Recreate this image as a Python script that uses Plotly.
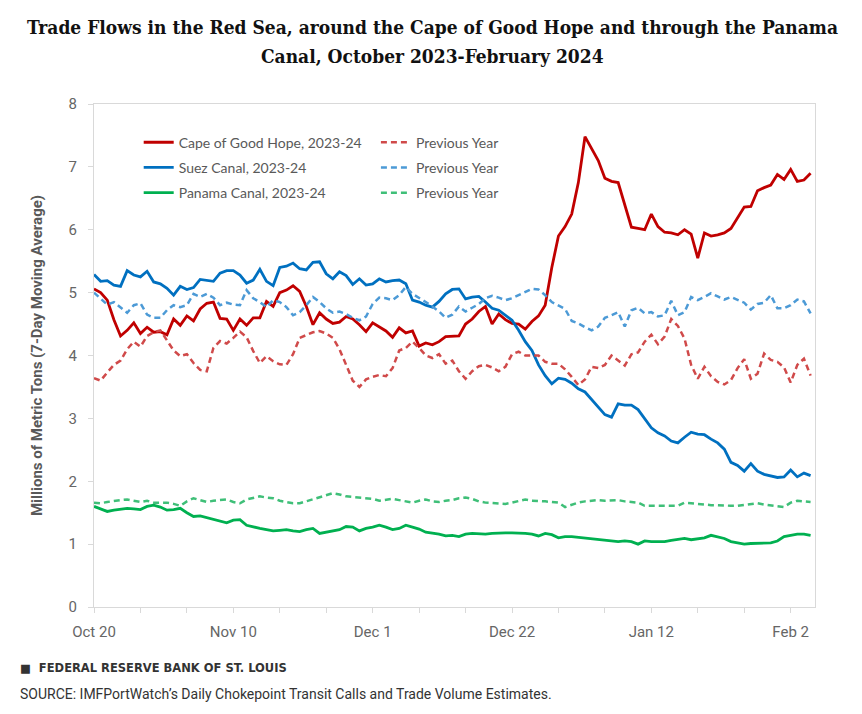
import pandas as pd
import plotly.graph_objects as go

start_date = "2023-10-20"

cape = [5.06, 5.00, 4.88, 4.57, 4.31, 4.40, 4.52, 4.35, 4.45, 4.37, 4.38, 4.33, 4.58, 4.48, 4.63, 4.55,
        4.74, 4.83, 4.85, 4.59, 4.58, 4.40, 4.58, 4.48, 4.60, 4.60, 4.86, 4.78, 5.00, 5.04, 5.11, 5.02,
        4.78, 4.49, 4.68, 4.58, 4.51,
        4.53, 4.62, 4.58, 4.49, 4.38, 4.52, 4.45, 4.39, 4.29, 4.44, 4.36, 4.39, 4.15, 4.20, 4.17, 4.22,
        4.30, 4.31, 4.31, 4.50, 4.58, 4.70, 4.78, 4.50, 4.66, 4.57, 4.51, 4.50, 4.42, 4.54, 4.63, 4.80,
        5.40, 5.90, 6.05, 6.25, 6.75, 7.48, 7.30, 7.10, 6.82, 6.77, 6.75, 6.40, 6.04, 6.02, 6.00, 6.25,
        6.05, 5.96, 5.95, 5.92, 6.00, 5.93, 5.55, 5.95, 5.90, 5.92, 5.95, 6.02, 6.18, 6.36, 6.37, 6.62,
        6.67, 6.71, 6.88, 6.80, 6.96, 6.77, 6.79, 6.90]

cape_prev = [3.64, 3.60, 3.73, 3.85, 3.92, 4.10, 4.22, 4.14, 4.31, 4.37, 4.40, 4.25, 4.08, 3.99, 4.02, 3.88,
             3.77, 3.75, 4.12, 4.23, 4.19, 4.28, 4.38, 4.29, 4.07, 3.88, 3.99, 3.91, 3.86, 3.85, 4.02, 4.28,
             4.33, 4.37, 4.39, 4.35, 4.28,
             4.10, 3.85, 3.60, 3.50, 3.62, 3.66, 3.69, 3.67, 3.80, 4.08, 4.12, 4.22, 4.12, 4.00, 3.96, 4.02,
             3.87, 3.92, 3.75, 3.63, 3.75, 3.83, 3.85, 3.81, 3.75, 3.82, 4.02, 4.06, 4.00, 4.00, 4.00, 3.90,
             3.87, 3.87, 3.78,
             3.66, 3.53, 3.62, 3.82, 3.80, 3.85, 4.00, 3.92, 3.84, 4.02, 4.05, 4.22, 4.33, 4.18, 4.30, 4.58,
             4.47, 4.27, 3.85, 3.63, 3.82, 3.67, 3.58, 3.54, 3.61, 3.80, 3.94, 3.63, 3.71, 4.03, 3.93, 3.90,
             3.81, 3.57, 3.85, 3.95, 3.68]

suez = [5.29, 5.18, 5.19, 5.12, 5.10, 5.35, 5.28, 5.25, 5.34, 5.17, 5.14, 5.07, 4.96, 5.10, 5.05, 5.08,
        5.21, 5.20, 5.18, 5.31, 5.35, 5.35, 5.28, 5.15, 5.20, 5.37, 5.18, 5.11, 5.40, 5.42, 5.47, 5.38,
        5.36, 5.48, 5.49, 5.30, 5.22,
        5.33, 5.27, 5.13, 5.22, 5.12, 5.14, 5.22, 5.17, 5.19, 5.20, 5.14, 4.88, 4.85, 4.80, 4.77, 4.86,
        4.98, 5.05, 5.06, 4.90, 4.93, 4.94, 4.85, 4.75, 4.72, 4.64, 4.56, 4.40, 4.22, 4.08, 3.85, 3.68,
        3.55, 3.64, 3.62,
        3.56, 3.47, 3.42, 3.30, 3.18, 3.06, 3.02, 3.23, 3.21, 3.21, 3.14, 2.99, 2.85, 2.77, 2.72, 2.64,
        2.61, 2.70, 2.78, 2.75, 2.74, 2.67, 2.61, 2.51, 2.30, 2.25, 2.16, 2.28, 2.16, 2.11, 2.08, 2.06,
        2.07, 2.18, 2.07, 2.13, 2.09]

suez_prev = [5.00, 4.91, 4.81, 4.85, 4.77, 4.68, 4.80, 4.83, 4.65, 4.60, 4.60, 4.72, 4.80, 4.77, 4.80, 4.98,
             4.93, 4.98, 4.92, 4.80, 4.84, 4.81, 4.80, 5.04, 4.91, 4.85, 4.77, 4.88, 4.85, 4.77, 4.64, 4.69,
             4.80, 4.93, 4.85, 4.75, 4.68,
             4.70, 4.66, 4.60, 4.56, 4.62, 4.82, 4.92, 4.91, 4.88, 4.96, 5.09, 4.98, 4.92, 4.85, 4.78, 4.70,
             4.60, 4.65, 4.78, 4.70, 4.76, 4.82, 4.91, 4.95, 4.92, 4.88, 4.91, 4.96, 5.02, 5.06, 5.05, 4.96,
             4.85, 4.80, 4.74,
             4.55, 4.51, 4.45, 4.40, 4.46, 4.60, 4.64, 4.69, 4.46, 4.72, 4.76, 4.67, 4.69, 4.62, 4.64, 4.87,
             4.64, 4.69, 4.93, 4.88, 4.93, 4.99, 4.94, 4.89, 4.93, 4.89, 4.84, 4.73, 4.82, 4.84, 4.96, 4.75,
             4.75, 4.80, 4.89, 4.86, 4.67]

panama = [1.60, 1.56, 1.52, 1.54, 1.56, 1.57, 1.56, 1.55, 1.60, 1.62, 1.59, 1.54, 1.55, 1.57, 1.50, 1.44,
          1.45, 1.42, 1.39, 1.36, 1.34, 1.38, 1.39, 1.30, 1.27, 1.25, 1.23, 1.21, 1.22, 1.23, 1.21, 1.20,
          1.23, 1.25, 1.17, 1.19, 1.21, 1.23, 1.28, 1.27, 1.21, 1.25, 1.27, 1.30, 1.27, 1.23, 1.25, 1.30,
          1.27, 1.24, 1.19, 1.18, 1.16, 1.13, 1.14, 1.12, 1.16, 1.17, 1.16, 1.16, 1.17, 1.18, 1.18, 1.18,
          1.18, 1.17, 1.16, 1.13, 1.17, 1.15, 1.10, 1.12, 1.12, 1.11, 1.10, 1.08, 1.07, 1.07, 1.06, 1.04,
          1.05, 1.04, 1.00, 1.05, 1.04, 1.04, 1.04, 1.06, 1.08, 1.09, 1.07, 1.08, 1.10, 1.14, 1.12, 1.09,
          1.04, 1.02, 1.00, 1.01, 1.01, 1.01, 1.02, 1.05, 1.12, 1.14, 1.16, 1.16, 1.14]

panama_prev = [1.66, 1.65, 1.67, 1.69, 1.70, 1.71, 1.69, 1.67, 1.69, 1.66, 1.66, 1.66, 1.64, 1.61, 1.68, 1.73,
               1.70, 1.67, 1.69, 1.70, 1.71, 1.67, 1.65, 1.71, 1.73, 1.76, 1.74, 1.73, 1.69, 1.67, 1.65, 1.65,
               1.68, 1.71, 1.75, 1.78, 1.81, 1.79, 1.76, 1.75, 1.74, 1.74, 1.72, 1.69, 1.71, 1.72, 1.70, 1.68,
               1.66, 1.69, 1.71, 1.68, 1.67, 1.69, 1.70, 1.73, 1.74, 1.72, 1.68, 1.66, 1.65, 1.65, 1.64, 1.66,
               1.69, 1.71, 1.69, 1.69, 1.68, 1.67, 1.66, 1.59, 1.63, 1.66, 1.68, 1.69, 1.70, 1.69, 1.69, 1.70,
               1.68, 1.67, 1.66, 1.61, 1.61, 1.61, 1.62, 1.61, 1.61, 1.66, 1.65, 1.64, 1.62, 1.62, 1.62, 1.61,
               1.61, 1.61, 1.62, 1.63, 1.65, 1.63, 1.62, 1.60, 1.59, 1.66, 1.69, 1.68, 1.67]

tick_dates = ["2023-10-20", "2023-11-10", "2023-12-01", "2023-12-22", "2024-01-12", "2024-02-02"]
tick_labels = ["Oct 20", "Nov 10", "Dec 1", "Dec 22", "Jan 12", "Feb 2"]

series_names = ["Cape of Good Hope, 2023-24", "Suez Canal, 2023-24", "Panama Canal, 2023-24"]
prev_name = "Previous Year"

title_lines = ["Trade Flows in the Red Sea, around the Cape of Good Hope and through the Panama",
               "Canal, October 2023-February 2024"]

dates = pd.date_range(start_date, periods=len(cape), freq="D")

solid_colors = ["#C00000", "#0070C0", "#00B050"]
dash_colors = ["#D04A4A", "#4C9AD6", "#3FBF78"]

fig = go.Figure()
current = [cape, suez, panama]
previous = [cape_prev, suez_prev, panama_prev]
for i in range(3):
    fig.add_trace(go.Scatter(x=dates, y=current[i], mode="lines", name=series_names[i],
                             line=dict(color=solid_colors[i], width=2.8),
                             legend="legend", legendgroup="c%d" % i))
for i in range(3):
    fig.add_trace(go.Scatter(x=dates, y=previous[i], mode="lines", name=prev_name,
                             line=dict(color=dash_colors[i], width=2.5, dash="6px,4px"),
                             legend="legend2", legendgroup="p%d" % i))

axis_grey = "#D9D9D9"
tick_font = dict(family="Roboto, Arial, sans-serif", size=15, color="#666666")
legend_font = dict(family="Lato, Open Sans, sans-serif", size=14, color="#595959")
title_font = dict(family="DejaVu Serif Condensed, DejaVu Serif, serif", size=19, color="#111111", weight="bold")

fig.update_layout(
    width=862, height=714,
    paper_bgcolor="white", plot_bgcolor="white",
    margin=dict(l=94, r=47, t=104, b=107),
    showlegend=True,
    legend=dict(x=0.062, y=0.955, xanchor="left", yanchor="top", font=legend_font,
                bgcolor="rgba(0,0,0,0)", tracegroupgap=4, itemwidth=30),
    legend2=dict(x=0.391, y=0.955, xanchor="left", yanchor="top", font=legend_font,
                 bgcolor="rgba(0,0,0,0)", tracegroupgap=4, itemwidth=30),
    xaxis=dict(
        type="date",
        range=["2023-10-20", "2024-02-05 16:00"],
        tickvals=tick_dates, ticktext=tick_labels,
        ticks="outside", ticklen=5, tickcolor=axis_grey, tickwidth=1,
        minor=dict(dtick=7 * 86400000, tick0="2023-10-20", ticks="outside", ticklen=5,
                   tickcolor=axis_grey, showgrid=False),
        showline=True, linecolor=axis_grey, linewidth=1, mirror=True,
        showgrid=False, zeroline=False,
        tickfont=tick_font, ticklabelstandoff=6,
    ),
    yaxis=dict(
        range=[0, 8], dtick=1, tick0=0,
        ticks="outside", ticklen=5, tickcolor=axis_grey,
        showline=True, linecolor=axis_grey, linewidth=1, mirror=True,
        showgrid=False, zeroline=False,
        tickfont=tick_font, ticklabelstandoff=8,
        title=dict(text="Millions of Metric Tons (7-Day Moving Average)",
                   font=dict(family="Roboto, Arial, sans-serif", size=15, color="#595959", weight="bold"),
                   standoff=22),
    ),
)

fig.add_annotation(text=title_lines[0], xref="paper", yref="paper", x=0.469, y=1.153,
                   xanchor="center", yanchor="middle", showarrow=False, font=title_font)
fig.add_annotation(text=title_lines[1], xref="paper", yref="paper", x=0.469, y=1.095,
                   xanchor="center", yanchor="middle", showarrow=False, font=title_font)

fig.add_annotation(text="■  FEDERAL RESERVE BANK OF ST. LOUIS", xref="paper", yref="paper",
                   x=-0.106, y=-0.121, xanchor="left", yanchor="middle", showarrow=False,
                   font=dict(family="DejaVu Sans, Arial, sans-serif", size=11.5, color="#333333", weight="bold"))
fig.add_annotation(text="SOURCE: IMFPortWatch’s Daily Chokepoint Transit Calls and Trade Volume Estimates.",
                   xref="paper", yref="paper", x=-0.106, y=-0.173, xanchor="left", yanchor="middle",
                   showarrow=False, font=dict(family="Roboto, Arial, sans-serif", size=14, color="#333333"))

fig.write_html("out.html", post_script="document.body.style.margin='0';",
               config={"displayModeBar": False})
